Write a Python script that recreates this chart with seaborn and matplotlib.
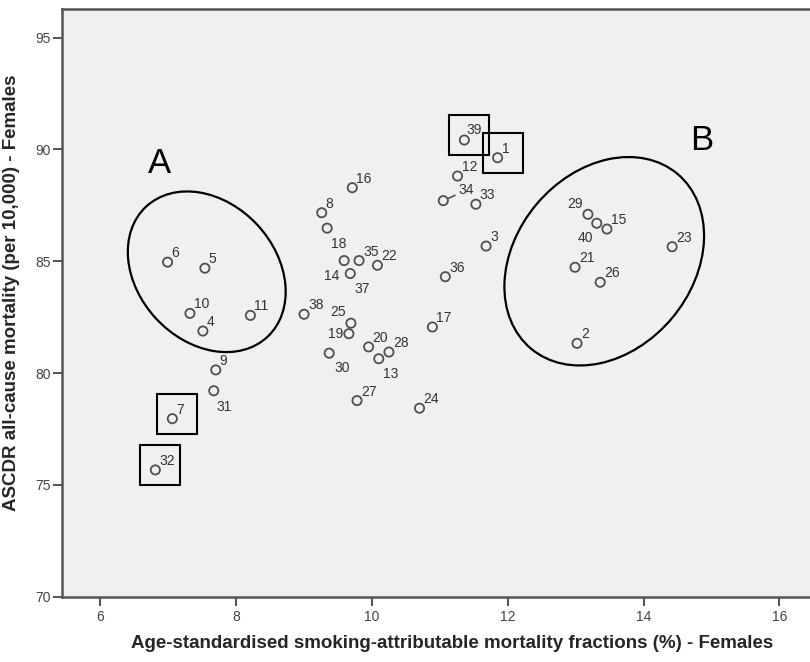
"""
Scatter of smoking-attributable mortality fractions vs all-cause mortality (females),
with SPSS-like point labels and the A/B group annotations.
"""

import numpy as np
import pandas as pd
import matplotlib
matplotlib.use("Agg")
import matplotlib.pyplot as plt
import seaborn as sns
from matplotlib.patches import Ellipse, Rectangle
from matplotlib.transforms import ScaledTranslation

# Data
area_id = [1, 2, 3, 4, 5, 6, 7, 8, 9, 10,
           11, 12, 13, 14, 15, 16, 17, 18, 19, 20,
           21, 22, 23, 24, 25, 26, 27, 28, 29, 30,
           31, 32, 33, 34, 35, 36, 37, 38, 39, 40]
smoking_frac = [11.85, 13.02, 11.68, 7.51, 7.54, 6.99, 7.06, 9.26, 7.70, 7.32,
                8.21, 11.26, 10.10, 9.59, 13.46, 9.71, 10.89, 9.34, 9.66, 9.95,
                12.99, 10.08, 14.42, 10.70, 9.69, 13.36, 9.78, 10.25, 13.18, 9.37,
                7.67, 6.81, 11.53, 11.05, 9.81, 11.08, 9.68, 9.00, 11.36, 13.31]
mortality = [89.63, 81.33, 85.68, 81.88, 84.69, 84.96, 77.96, 87.17, 80.14, 82.67,
             82.58, 88.81, 80.64, 85.03, 86.44, 88.29, 82.06, 86.48, 81.76, 81.17,
             84.73, 84.82, 85.65, 78.43, 82.23, 84.06, 78.77, 80.94, 87.10, 80.89,
             79.21, 75.67, 87.55, 87.71, 85.03, 84.31, 84.45, 82.63, 90.42, 86.70]

x_ticks = [6, 8, 10, 12, 14, 16]
y_ticks = [70, 75, 80, 85, 90, 95]
boxed_ids = [39, 1, 7, 32]

df = pd.DataFrame({"id": area_id, "x": smoking_frac, "y": mortality})

# label placement (pixel offsets, alignment) where it is not upper-right
default_lab = ((4, 5), "left", "baseline")
label_pos = {
    31: ((3, -9), "left", "top"),
    18: ((4, -9), "left", "top"),
    14: ((-5, -8), "right", "top"),
    37: ((4, -8), "left", "top"),
    25: ((-5, 7), "right", "baseline"),
    19: ((-6, 0), "right", "center"),
    30: ((5, -8), "left", "top"),
    13: ((4, -8), "left", "top"),
    29: ((-5, 6), "right", "baseline"),
    40: ((-4, -8), "right", "top"),
    39: ((2, 6), "left", "baseline"),
}
leader_ids = [34]

sns.set_theme(style="ticks")
plt.rcParams["font.family"] = ["Liberation Sans", "DejaVu Sans"]

fig = plt.figure(figsize=(8.1, 6.62), dpi=100)
ax = fig.add_axes([62.3 / 810, 65.3 / 662, 1 - 62.3 / 810, (596.7 - 9) / 662])
ax.set_facecolor("#f0f0f0")

sns.scatterplot(data=df, x="x", y="y", ax=ax, marker="o", s=44,
                facecolor="none", edgecolor="#505050", linewidth=1.3, legend=False)

for i, x, y in zip(area_id, smoking_frac, mortality):
    if i in leader_ids:
        continue
    off, ha, va = label_pos.get(i, default_lab)
    ax.annotate(str(i), (x, y), xytext=off, textcoords="offset pixels",
                ha=ha, va=va, fontsize=10, color="#333333")

# label 34 sits away from its point with a short leader line
for i in leader_ids:
    r = df[df.id == i].iloc[0]
    ax.annotate(str(i), (r.x, r.y), xytext=(15, 7), textcoords="offset pixels",
                ha="left", va="baseline", fontsize=10, color="#333333",
                arrowprops=dict(arrowstyle="-", color="#505050", lw=1.2,
                                shrinkA=0, shrinkB=4, relpos=(0, 0.2)))

# square boxes around the highlighted points (40 px, centred slightly up-right)
for b in boxed_ids:
    r = df[df.id == b].iloc[0]
    tr = fig.dpi_scale_trans + ScaledTranslation(r.x, r.y, ax.transData)
    ax.add_patch(Rectangle((0.05 - 0.2, 0.05 - 0.2), 0.4, 0.4, transform=tr,
                           fill=False, edgecolor="black", lw=1.5))

# group ellipses, sized in inches around a data-space centre
for cx, cy, w, h, ang in [(7.567, 84.53, 1.78, 1.38, -47),
                          (13.42, 85.0, 2.28, 1.77, 50)]:
    tr = fig.dpi_scale_trans + ScaledTranslation(cx, cy, ax.transData)
    ax.add_patch(Ellipse((0, 0), w, h, angle=ang, transform=tr,
                         fill=False, edgecolor="black", lw=1.6))

ax.text(6.87, 89.38, "A", fontsize=25, ha="center", va="center", color="black")
ax.text(14.86, 90.42, "B", fontsize=25, ha="center", va="center", color="black")

ax.set_xlim(5.44, 16.45)
ax.set_ylim(70, 96.28)
ax.set_xticks(x_ticks)
ax.set_yticks(y_ticks)
ax.tick_params(axis="both", length=6.5, width=1.3, color="#444444",
               labelsize=10, labelcolor="#444444", pad=2)
ax.tick_params(axis="x", pad=3)

for side in ["left", "bottom", "top"]:
    ax.spines[side].set_color("#555555")
    ax.spines[side].set_linewidth(1.8)
ax.spines["right"].set_visible(False)

lab_font = dict(family=["Liberation Sans", "DejaVu Sans"],
                fontsize=13.5, fontweight="bold")
ax.set_xlabel("Age-standardised smoking-attributable mortality fractions (%) - Females",
              **lab_font)
ax.set_ylabel("ASCDR all-cause mortality (per 10,000) - Females", **lab_font)
ax.xaxis.set_label_coords(0.521, -0.065)
ax.yaxis.set_label_coords(-0.057, 0.518)

fig.savefig("out.png", dpi=100)
